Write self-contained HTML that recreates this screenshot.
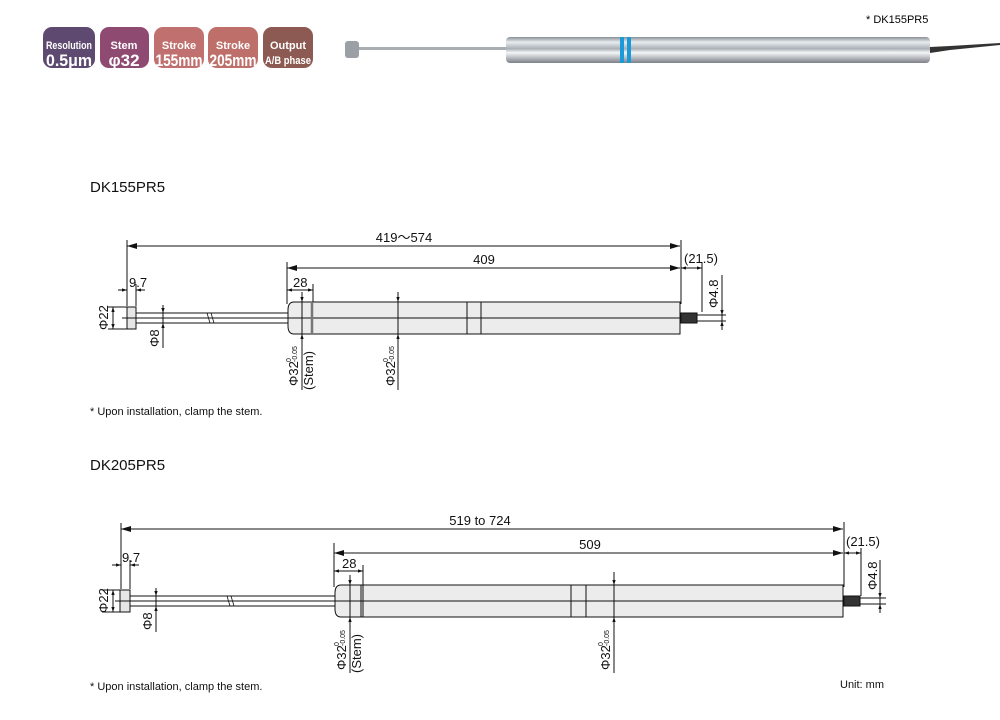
<!DOCTYPE html>
<html><head><meta charset="utf-8"><style>
body{margin:0;background:#fff;width:1000px;height:715px;overflow:hidden;font-family:"Liberation Sans",sans-serif}
</style></head><body>
<svg width="1000" height="715" viewBox="0 0 1000 715" xmlns="http://www.w3.org/2000/svg" font-family="Liberation Sans, sans-serif">
<defs>
<marker id="a" viewBox="0 0 10 6" refX="10" refY="3" markerWidth="10" markerHeight="6" orient="auto-start-reverse" markerUnits="userSpaceOnUse"><path d="M0,0L10,3L0,6z" fill="#111"/></marker>
<marker id="s" viewBox="0 0 6 4" refX="6" refY="2" markerWidth="5" markerHeight="4" orient="auto-start-reverse" markerUnits="userSpaceOnUse"><path d="M0,0L6,2L0,4z" fill="#111"/></marker>
<linearGradient id="met" x1="0" y1="0" x2="0" y2="1">
<stop offset="0" stop-color="#8a8f96"/><stop offset=".2" stop-color="#e8ecef"/><stop offset=".45" stop-color="#aab0b6"/><stop offset=".6" stop-color="#f4f6f8"/><stop offset="1" stop-color="#7c8188"/></linearGradient>
</defs>
<!-- badges -->
<g font-weight="bold" fill="#fff" text-anchor="middle">
<rect x="43" y="27" width="52" height="41" rx="9" fill="#5e4a70"/>
<text x="69" y="49" font-size="11" textLength="46" lengthAdjust="spacingAndGlyphs">Resolution</text><text x="69" y="66" font-size="17" textLength="46" lengthAdjust="spacingAndGlyphs">0.5μm</text>
<rect x="100" y="27" width="49" height="41" rx="9" fill="#8f4a72"/>
<text x="124" y="49" font-size="11">Stem</text><text x="124" y="66" font-size="17">φ32</text>
<rect x="154" y="27" width="50" height="41" rx="9" fill="#c0706e"/>
<text x="179" y="49" font-size="11">Stroke</text><text x="179" y="66" font-size="17" textLength="47" lengthAdjust="spacingAndGlyphs">155mm</text>
<rect x="208" y="27" width="50" height="41" rx="9" fill="#bf6f6a"/>
<text x="233" y="49" font-size="11">Stroke</text><text x="233" y="66" font-size="17" textLength="47" lengthAdjust="spacingAndGlyphs">205mm</text>
<rect x="263" y="27" width="50" height="41" rx="9" fill="#8c5a52"/>
<text x="288" y="49" font-size="11">Output</text><text x="288" y="64" font-size="11" textLength="46" lengthAdjust="spacingAndGlyphs">A/B phase</text>
</g>
<!-- photo -->
<text x="866" y="23" font-size="11">* DK155PR5</text>
<rect x="345" y="41" width="14" height="17" rx="3" fill="#9aa0a5"/>
<rect x="359" y="47" width="148" height="3" fill="#a9aeb3"/>
<rect x="506" y="37" width="424" height="26" rx="4" fill="url(#met)"/>
<rect x="620" y="37" width="4" height="26" fill="#1a9ad8"/><rect x="627" y="37" width="4" height="26" fill="#1a9ad8"/>
<path d="M930,47L950,46L1000,43L1000,45L950,50L930,53z" fill="#333"/>

<g stroke="#111" stroke-width="1" fill="none">
<!-- ===== Diagram 1 ===== -->
<line x1="127" y1="240" x2="127" y2="306"/>
<line x1="127" y1="246" x2="680" y2="246" marker-start="url(#a)" marker-end="url(#a)"/>
<line x1="287" y1="262" x2="287" y2="304"/>
<line x1="287" y1="268" x2="680" y2="268" marker-start="url(#a)" marker-end="url(#a)"/>
<line x1="681" y1="240" x2="681" y2="304"/>
<rect x="127" y="307" width="9" height="22" fill="#e6e6e6"/>
<line x1="136" y1="313" x2="288" y2="313"/><line x1="136" y1="323" x2="288" y2="323"/>
<line x1="122" y1="318" x2="288" y2="318"/>
<path d="M207,313l3,10M211,313l3,10" stroke-width="0.8"/>
<path d="M294,302H680V334H294Q288,334 288,326V310Q288,302 294,302Z" fill="#ececec"/>
<line x1="288" y1="318" x2="697" y2="318"/>
<line x1="312" y1="302" x2="312" y2="334" stroke="#777" stroke-width="2.5"/>
<line x1="467" y1="302" x2="467" y2="334"/><line x1="481" y1="302" x2="481" y2="334"/>
<line x1="302" y1="292" x2="302" y2="390"/>
<line x1="302" y1="292" x2="302" y2="302" marker-end="url(#s)"/>
<line x1="302" y1="344" x2="302" y2="334" marker-end="url(#s)"/>
<line x1="398" y1="292" x2="398" y2="390"/>
<line x1="398" y1="292" x2="398" y2="302" marker-end="url(#s)"/>
<line x1="398" y1="344" x2="398" y2="334" marker-end="url(#s)"/>
<rect x="681" y="313" width="16" height="10" fill="#333"/>
<line x1="697" y1="315" x2="726" y2="315"/><line x1="697" y1="321" x2="726" y2="321"/>
<line x1="136" y1="284" x2="136" y2="306"/>
<line x1="118" y1="290" x2="127" y2="290" marker-end="url(#s)"/><line x1="145" y1="290" x2="136" y2="290" marker-end="url(#s)"/>
<line x1="287" y1="290" x2="313" y2="290" marker-start="url(#s)" marker-end="url(#s)"/>
<line x1="313" y1="284" x2="313" y2="302"/>
<line x1="108" y1="307" x2="127" y2="307"/><line x1="108" y1="329" x2="127" y2="329"/>
<line x1="113" y1="307" x2="113" y2="329" marker-start="url(#s)" marker-end="url(#s)"/>
<line x1="163" y1="305" x2="163" y2="348"/>
<line x1="163" y1="305" x2="163" y2="313" marker-end="url(#s)"/><line x1="163" y1="331" x2="163" y2="323" marker-end="url(#s)"/>
<line x1="681" y1="268" x2="702" y2="268" marker-start="url(#s)" marker-end="url(#s)"/>
<line x1="702" y1="262" x2="702" y2="312"/>
<line x1="722" y1="275" x2="722" y2="327"/>
<line x1="722" y1="305" x2="722" y2="315" marker-end="url(#s)"/><line x1="722" y1="330" x2="722" y2="321" marker-end="url(#s)"/>

<!-- ===== Diagram 2 ===== -->
<line x1="121" y1="523" x2="121" y2="589"/>
<line x1="121" y1="529" x2="843" y2="529" marker-start="url(#a)" marker-end="url(#a)"/>
<line x1="334" y1="543" x2="334" y2="587"/>
<line x1="334" y1="553" x2="843" y2="553" marker-start="url(#a)" marker-end="url(#a)"/>
<line x1="844" y1="522" x2="844" y2="587"/>
<rect x="120" y="590" width="10" height="22" fill="#e6e6e6"/>
<line x1="130" y1="596" x2="335" y2="596"/><line x1="130" y1="606" x2="335" y2="606"/>
<line x1="115" y1="601" x2="335" y2="601"/>
<path d="M227,596l3,10M231,596l3,10" stroke-width="0.8"/>
<path d="M341,585H843V617H341Q335,617 335,609V593Q335,585 341,585Z" fill="#ececec"/>
<line x1="335" y1="601" x2="860" y2="601"/>
<line x1="361" y1="585" x2="361" y2="617"/><line x1="363" y1="585" x2="363" y2="617"/>
<line x1="571" y1="585" x2="571" y2="617"/><line x1="586" y1="585" x2="586" y2="617"/>
<line x1="350" y1="575" x2="350" y2="673"/>
<line x1="350" y1="575" x2="350" y2="585" marker-end="url(#s)"/>
<line x1="350" y1="627" x2="350" y2="617" marker-end="url(#s)"/>
<line x1="614" y1="572" x2="614" y2="673"/>
<line x1="614" y1="575" x2="614" y2="585" marker-end="url(#s)"/>
<line x1="614" y1="627" x2="614" y2="617" marker-end="url(#s)"/>
<rect x="844" y="596" width="16" height="10" fill="#333"/>
<line x1="860" y1="598" x2="886" y2="598"/><line x1="860" y1="604" x2="886" y2="604"/>
<line x1="130" y1="560" x2="130" y2="589"/>
<line x1="112" y1="565" x2="121" y2="565" marker-end="url(#s)"/><line x1="139" y1="565" x2="130" y2="565" marker-end="url(#s)"/>
<line x1="334" y1="571" x2="363" y2="571" marker-start="url(#s)" marker-end="url(#s)"/>
<line x1="363" y1="565" x2="363" y2="585"/>
<line x1="102" y1="590" x2="120" y2="590"/><line x1="102" y1="612" x2="120" y2="612"/>
<line x1="113" y1="590" x2="113" y2="612" marker-start="url(#s)" marker-end="url(#s)"/>
<line x1="156" y1="590" x2="156" y2="632"/>
<line x1="156" y1="588" x2="156" y2="596" marker-end="url(#s)"/><line x1="156" y1="614" x2="156" y2="606" marker-end="url(#s)"/>
<line x1="844" y1="553" x2="861" y2="553" marker-start="url(#s)" marker-end="url(#s)"/>
<line x1="861" y1="548" x2="861" y2="596"/>
<line x1="880" y1="560" x2="880" y2="610"/>
<line x1="880" y1="588" x2="880" y2="598" marker-end="url(#s)"/><line x1="880" y1="613" x2="880" y2="604" marker-end="url(#s)"/>
</g>

<g font-size="13" fill="#111">
<text x="90" y="192" font-size="15">DK155PR5</text>
<text x="404" y="242" text-anchor="middle">419〜574</text>
<text x="484" y="264" text-anchor="middle">409</text>
<text x="684" y="263">(21.5)</text>
<text x="129" y="287">9.7</text>
<text x="293" y="287">28</text>
<text transform="translate(108,330) rotate(-90)">Φ22</text>
<text transform="translate(159,347) rotate(-90)">Φ8</text>
<text transform="translate(718,308) rotate(-90)">Φ4.8</text>
<text transform="translate(298,386) rotate(-90)">Φ32</text>
<text transform="translate(291,362) rotate(-90)" font-size="7">0</text>
<text transform="translate(297,362) rotate(-90)" font-size="7">-0.05</text>
<text transform="translate(313,390) rotate(-90)">(Stem)</text>
<text transform="translate(395,386) rotate(-90)">Φ32</text>
<text transform="translate(388,362) rotate(-90)" font-size="7">0</text>
<text transform="translate(394,362) rotate(-90)" font-size="7">-0.05</text>
<text x="90" y="415" font-size="11">* Upon installation, clamp the stem.</text>

<text x="90" y="470" font-size="15">DK205PR5</text>
<text x="480" y="525" text-anchor="middle">519 to 724</text>
<text x="590" y="549" text-anchor="middle">509</text>
<text x="846" y="546">(21.5)</text>
<text x="122" y="562">9.7</text>
<text x="342" y="568">28</text>
<text transform="translate(108,613) rotate(-90)">Φ22</text>
<text transform="translate(152,630) rotate(-90)">Φ8</text>
<text transform="translate(877,590) rotate(-90)">Φ4.8</text>
<text transform="translate(346,670) rotate(-90)">Φ32</text>
<text transform="translate(339,646) rotate(-90)" font-size="7">0</text>
<text transform="translate(345,646) rotate(-90)" font-size="7">-0.05</text>
<text transform="translate(361,673) rotate(-90)">(Stem)</text>
<text transform="translate(610,670) rotate(-90)">Φ32</text>
<text transform="translate(603,646) rotate(-90)" font-size="7">0</text>
<text transform="translate(609,646) rotate(-90)" font-size="7">-0.05</text>
<text x="90" y="690" font-size="11">* Upon installation, clamp the stem.</text>
<text x="840" y="688" font-size="11">Unit: mm</text>
</g>
</svg>
</body></html>
